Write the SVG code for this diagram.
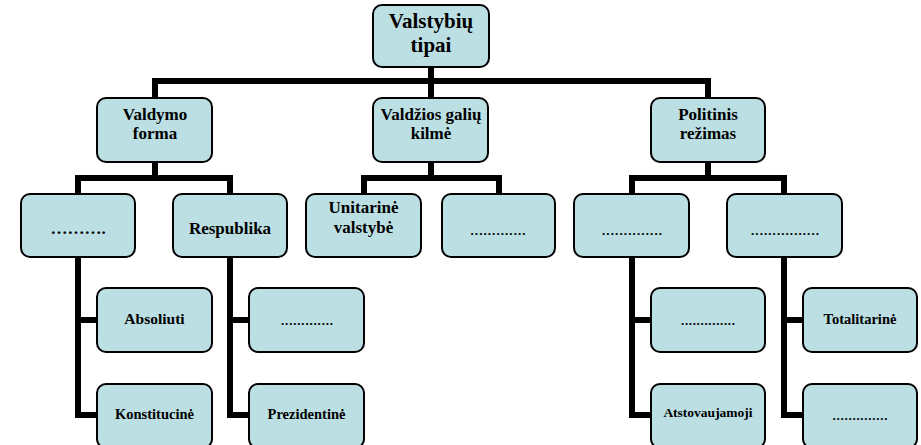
<svg xmlns="http://www.w3.org/2000/svg" width="921" height="445" viewBox="0 0 921 445">
<style>
.box{fill:#bbdfe3;stroke:#000;stroke-width:2}
.ln{fill:none;stroke:#000;stroke-width:6;stroke-linejoin:miter;stroke-linecap:butt}
text{font-family:"Liberation Serif","Times New Roman",serif;font-weight:bold;fill:#000;text-anchor:middle}
.t0{font-size:21px}
.t1{font-size:17px}
.t3{font-size:14.5px}
.dots{font-size:13px}
</style>
<rect width="921" height="445" fill="#fff"/>
<g id="connectors">
<path class="ln" d="M431,67V81M155,98V81H708V98M431,81V98"/>
<path class="ln" d="M155,162V178M78,194V178H230V194"/>
<path class="ln" d="M431,162V178M364,194V178H499V194"/>
<path class="ln" d="M708,162V178M632,194V178H784V194"/>
<path class="ln" d="M78,257V415H97M78,320H97"/>
<path class="ln" d="M230,257V415H249M230,320H249"/>
<path class="ln" d="M632,257V415H651M632,320H651"/>
<path class="ln" d="M784,257V415H803M784,320H803"/>
</g>
<g id="n-root"><rect class="box" x="373" y="5" width="116" height="62" rx="9"/><text class="t0" x="431" y="28">Valstybių</text><text class="t0" x="431" y="52">tipai</text></g>
<g id="n-valdymo"><rect class="box" x="97" y="98" width="115" height="64" rx="9"/><text class="t1" x="155" y="120">Valdymo</text><text class="t1" x="155" y="139">forma</text></g>
<g id="n-valdzios"><rect class="box" x="373" y="98" width="115" height="64" rx="9"/><text class="t1" x="431" y="120">Valdžios galių</text><text class="t1" x="431" y="139">kilmė</text></g>
<g id="n-politinis"><rect class="box" x="651" y="98" width="114" height="64" rx="9"/><text class="t1" x="708" y="120">Politinis</text><text class="t1" x="708" y="139">režimas</text></g>
<g id="n-monarchija"><rect class="box" x="21" y="194" width="114" height="63" rx="9"/><text class="t1" x="78" y="234">……….</text></g>
<g id="n-respublika"><rect class="box" x="173" y="194" width="114" height="63" rx="9"/><text class="t1" x="230" y="234">Respublika</text></g>
<g id="n-unitarine"><rect class="box" x="306" y="194" width="115" height="63" rx="9"/><text class="t1" x="363.5" y="213">Unitarinė</text><text class="t1" x="363.5" y="233">valstybė</text></g>
<g id="n-federacine"><rect class="box" x="442" y="194" width="113" height="63" rx="9"/><text class="dots" x="498" y="235" textLength="55" lengthAdjust="spacing">.............</text></g>
<g id="n-demokratinis"><rect class="box" x="574" y="194" width="115" height="63" rx="9"/><text class="dots" x="632" y="235" textLength="60" lengthAdjust="spacing">..............</text></g>
<g id="n-nedemokratinis"><rect class="box" x="727" y="194" width="115" height="63" rx="9"/><text class="dots" x="785" y="235" textLength="68" lengthAdjust="spacing">................</text></g>
<g id="n-absoliuti"><rect class="box" x="97" y="288" width="115" height="64" rx="9"/><text class="t3" x="154.5" y="324" style="font-size:15.5px">Absoliuti</text></g>
<g id="n-konstitucine"><rect class="box" x="97" y="384" width="115" height="64" rx="9"/><text class="t3" x="154.5" y="419">Konstitucinė</text></g>
<g id="n-parlamentine"><rect class="box" x="249" y="288" width="115" height="64" rx="9"/><text class="dots" x="307" y="325" textLength="52" lengthAdjust="spacing">.............</text></g>
<g id="n-prezidentine"><rect class="box" x="249" y="384" width="115" height="64" rx="9"/><text class="t3" x="306.5" y="419">Prezidentinė</text></g>
<g id="n-tiesiogine"><rect class="box" x="651" y="288" width="114" height="64" rx="9"/><text class="dots" x="708" y="325" textLength="54" lengthAdjust="spacing">..............</text></g>
<g id="n-atstovaujamoji"><rect class="box" x="651" y="384" width="114" height="64" rx="9"/><text class="t3" x="708" y="417" style="font-size:13.5px">Atstovaujamoji</text></g>
<g id="n-totalitarine"><rect class="box" x="803" y="288" width="114" height="64" rx="9"/><text class="t3" x="860" y="324">Totalitarinė</text></g>
<g id="n-autoritarine"><rect class="box" x="803" y="384" width="114" height="64" rx="9"/><text class="dots" x="860" y="420" textLength="55" lengthAdjust="spacing">..............</text></g>
</svg>
